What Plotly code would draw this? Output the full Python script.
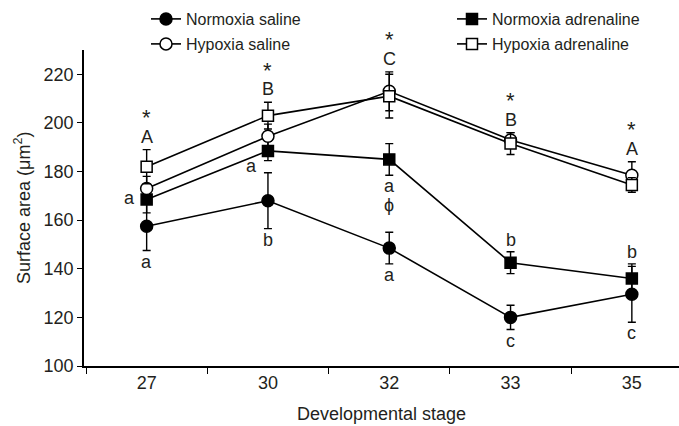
import plotly.graph_objects as go

stages = ["27", "30", "32", "33", "35"]

series_names = ["Normoxia saline", "Normoxia adrenaline", "Hypoxia saline", "Hypoxia adrenaline"]
normoxia_saline = [157.5, 168.0, 148.5, 120.0, 129.5]
normoxia_saline_err = [10.0, 11.5, 6.5, 5.0, 11.5]
normoxia_adrenaline = [168.5, 188.5, 185.0, 142.5, 136.0]
normoxia_adrenaline_err = [5.5, 4.0, 6.5, 4.5, 6.0]
hypoxia_saline = [173.0, 194.5, 213.0, 193.0, 178.5]
hypoxia_saline_err = [5.0, 5.0, 8.0, 3.0, 5.5]
hypoxia_adrenaline = [182.0, 203.0, 211.0, 191.5, 174.5]
hypoxia_adrenaline_err = [7.0, 5.5, 9.0, 4.5, 3.0]

star_labels = ["*", "*", "*", "*", "*"]
hypoxia_letters = ["A", "B", "C", "B", "A"]
normoxia_adrenaline_letters = ["a", "a", "a", "b", "b"]
normoxia_saline_letters = ["a", "b", "a", "c", "c"]
phi_labels = ["", "", "ϕ", "", ""]

y_ticks = [100, 120, 140, 160, 180, 200, 220]

TXT = "#231f20"
FONT = "Liberation Sans, Arial, sans-serif"
x = list(range(len(stages)))

L, R, T, B = 84, 0, 50, 60
W, H = 679, 426

fig = go.Figure()

specs = [
    (normoxia_saline, normoxia_saline_err, "circle", "black", "legend"),
    (normoxia_adrenaline, normoxia_adrenaline_err, "square", "black", "legend2"),
    (hypoxia_saline, hypoxia_saline_err, "circle", "white", "legend3"),
    (hypoxia_adrenaline, hypoxia_adrenaline_err, "square", "white", "legend4"),
]
for name, (vals, errs, sym, fill, leg) in zip(series_names, specs):
    fig.add_trace(go.Scatter(
        x=x, y=vals, name=name, mode="lines+markers",
        line=dict(color="black", width=1.6),
        marker=dict(symbol=sym, size=12 if sym == "circle" else 11, color=fill,
                    line=dict(color="black", width=1.5)),
        error_y=dict(type="data", array=errs, visible=True, color="black",
                     thickness=1.4, width=4),
        legend=leg,
    ))

ann = []
lf = dict(family=FONT, size=18, color=TXT)
for i in range(len(stages)):
    top = max(hypoxia_saline[i] + hypoxia_saline_err[i],
              hypoxia_adrenaline[i] + hypoxia_adrenaline_err[i])
    ann.append(dict(x=x[i], y=top, text=hypoxia_letters[i], showarrow=False,
                    yanchor="middle", yshift=13, font=lf))
    ann.append(dict(x=x[i], y=top, text=star_labels[i], showarrow=False,
                    yanchor="middle", yshift=32, font=dict(family=FONT, size=22, color=TXT)))
    bot = normoxia_saline[i] - normoxia_saline_err[i]
    ann.append(dict(x=x[i], y=bot, text=normoxia_saline_letters[i], showarrow=False,
                    yanchor="middle", yshift=-11, font=lf))
    na = normoxia_adrenaline[i]
    ne = normoxia_adrenaline_err[i]
    if i == 0:
        ann.append(dict(x=x[i], y=na, text=normoxia_adrenaline_letters[i], showarrow=False,
                        yanchor="middle", xshift=-17, yshift=1, font=lf))
    elif i == 1:
        ann.append(dict(x=x[i], y=na, text=normoxia_adrenaline_letters[i], showarrow=False,
                        yanchor="middle", xshift=-16, yshift=-15, font=lf))
    elif i == 2:
        ann.append(dict(x=x[i], y=na - ne, text=normoxia_adrenaline_letters[i], showarrow=False,
                        yanchor="middle", yshift=-11, font=lf))
        ann.append(dict(x=x[i], y=na - ne, text=phi_labels[i], showarrow=False,
                        yanchor="middle", yshift=-30, font=lf))
    else:
        ann.append(dict(x=x[i], y=na + ne, text=normoxia_adrenaline_letters[i], showarrow=False,
                        yanchor="middle", yshift=12, font=lf))

# y-axis title
plot_w = W - L - R
plot_h = H - T - B
ann.append(dict(x=(22 - L) / plot_w, y=(H - B - 208) / plot_h, xref="paper", yref="paper",
                xanchor="center", yanchor="middle",
                text="Surface area (μm<sup>2</sup>)", textangle=-90, showarrow=False,
                font=dict(family=FONT, size=18, color=TXT)))

legfont = dict(family=FONT, size=16, color=TXT)
def leg(xp, yp):
    return dict(x=xp, y=yp, xref="container", yref="container", xanchor="left",
                yanchor="middle", font=legfont, bgcolor="rgba(0,0,0,0)",
                borderwidth=0, itemwidth=30)

x0 = -0.5 - 2.0 / 121.3
fig.update_layout(
    width=W, height=H,
    margin=dict(l=L, r=R, t=T, b=B, autoexpand=False),
    paper_bgcolor="white", plot_bgcolor="white",
    font=dict(family=FONT, size=18, color=TXT),
    showlegend=True,
    legend=leg(146 / W, 1 - 19 / H),
    legend2=leg(452 / W, 1 - 19 / H),
    legend3=leg(146 / W, 1 - 44 / H),
    legend4=leg(452 / W, 1 - 44 / H),
    annotations=ann,
    xaxis=dict(
        range=[x0, x0 + plot_w / 121.3], tickvals=x, ticktext=stages, automargin=False,
        ticks="", showline=True, linecolor="black", linewidth=1.6,
        showgrid=False, zeroline=False, tickfont=dict(family=FONT, size=18, color=TXT),
        minor=dict(tickvals=[v - 0.5 for v in x] + [x[-1] + 0.5], ticks="outside",
                   ticklen=6, tickwidth=1.4, tickcolor="black", showgrid=False),
        title=dict(text="Developmental stage", font=dict(family=FONT, size=18, color=TXT)),
    ),
    yaxis=dict(
        range=[100, 230], tickvals=y_ticks, ticks="outside", ticklen=5, tickwidth=1.4,
        tickcolor="black", showline=True, linecolor="black", linewidth=1.6, automargin=False,
        showgrid=False, zeroline=False, tickfont=dict(family=FONT, size=18, color=TXT),
    ),
)

fig.write_html("out.html", config={"displayModeBar": False},
               post_script="document.body.style.margin='0px';")
